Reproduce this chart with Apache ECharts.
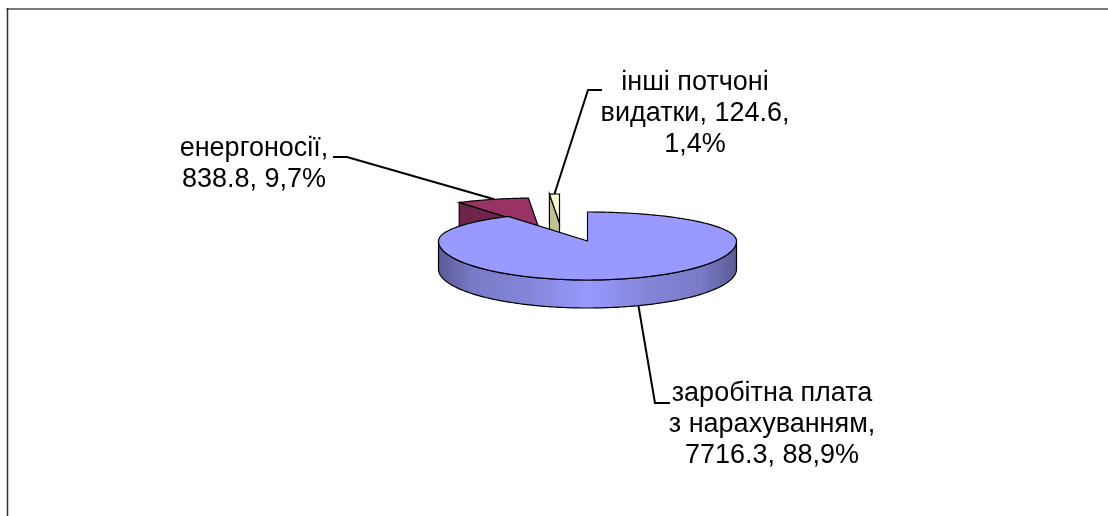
<!DOCTYPE html>
<html><head><meta charset="utf-8">
<style>html,body{margin:0;padding:0;background:#fff}#c{width:1108px;height:516px}</style>
<script src="https://cdn.jsdelivr.net/npm/echarts@6/dist/echarts.min.js"></script>
</head><body><div id="c"></div>
<script>
// data
const names = ['заробітна плата з нарахуванням', 'енергоносії', 'інші потчоні видатки'];
const values = [7716.3, 838.8, 124.6];
// label text broken into lines the way the picture wraps it
const labelLines = [
  v => ['заробітна плата', 'з нарахуванням,', v],
  v => ['енергоносії,', v],
  v => ['інші потчоні', 'видатки, ' + v.split(', ')[0] + ',', v.split(', ')[1]]
];
// layout & style (not data)
const pie = {cx: 587.5, cy: 241, rx: 149, ryBack: 29, ryFront: 39, depth: 28, warp: 0.75};
const sliceStyle = [
  {dx: 0, dy: 0, depth: 28, top: '#9999ff', face: '#6e6eb8', z: 3},
  {dx: -49, dy: -14, depth: 28, top: '#993366', face: '#6e2549', z: 1},
  {dx: -28, dy: -18, depth: 34, top: '#ffffcc', face: '#c2c291', z: 2}
];
const labelStyle = [
  {x: 772, y: 424.5, elbow: [[670, 403], [655, 403]]},
  {x: 254, y: 164.5, elbow: [[333, 157], [347, 157]]},
  {x: 695, y: 114, elbow: [[602, 90], [588, 90]]}
];
const FONT = '"Liberation Sans", Arial, sans-serif';

const total = values.reduce((a, b) => a + b, 0);
const RAD = Math.PI / 180;
// data angle (deg, clockwise from 12 o'clock) -> offset from pie centre on the tilted disc
function disc(deg) {
  let u = Math.sin(deg * RAD), v = Math.cos(deg * RAD);
  if (v > 0) { u *= pie.warp; const n = Math.hypot(u, v); u /= n; v /= n; }
  return [pie.rx * u, -(v > 0 ? pie.ryBack : pie.ryFront) * v];
}
function arc(a0, a1, ox, oy) {
  const pts = [], n = Math.max(2, Math.ceil(Math.abs(a1 - a0)));
  for (let i = 0; i <= n; i++) {
    const d = disc(a0 + (a1 - a0) * i / n);
    pts.push([pie.cx + ox + d[0], pie.cy + oy + d[1]]);
  }
  return pts;
}
const wallFill = new echarts.graphic.LinearGradient(0, 0, 1, 0, [
  {offset: 0, color: '#5a5a96'}, {offset: 0.06, color: '#6a6aae'}, {offset: 0.12, color: '#7a7ac8'},
  {offset: 0.3, color: '#8585d8'}, {offset: 0.5, color: '#9999ff'}, {offset: 0.7, color: '#8585d8'},
  {offset: 0.88, color: '#7a7ac8'}, {offset: 0.94, color: '#6a6aae'}, {offset: 1, color: '#5a5a96'}
]);
const ink = {stroke: '#000', lineWidth: 1.2};

function renderSlice(params, api) {
  const i = params.dataIndex;
  const val = api.value(0);
  const start = values.slice(0, i).reduce((a, b) => a + b, 0) / total * 360;
  const end = start + val / total * 360;
  const s = sliceStyle[i];
  const apex = [pie.cx + s.dx, pie.cy + s.dy];
  const rim = arc(start, end, s.dx, s.dy);
  const kids = [];
  if (i === 0) {
    const front = arc(90, 270, 0, 0);
    const wall = front.concat(front.slice().reverse().map(p => [p[0], p[1] + s.depth]));
    kids.push({type: 'polygon', z2: s.z, shape: {points: wall}, style: Object.assign({fill: wallFill}, ink)});
  } else {
    const o = rim[0].slice();
    const face = [apex, o, [o[0], o[1] + s.depth], [apex[0], apex[1] + s.depth]];
    kids.push({type: 'polygon', z2: s.z, shape: {points: face}, style: Object.assign({fill: s.face}, ink)});
  }
  kids.push({type: 'polygon', z2: s.z, shape: {points: [apex].concat(rim)}, style: Object.assign({fill: s.top}, ink)});

  // leader line ends on the slice's outer rim at its mid-angle
  const mid = disc((start + end) / 2);
  const drop = i === 0 ? s.depth : 0;
  const end2 = [apex[0] + mid[0], apex[1] + mid[1] + drop];
  const L = labelStyle[i];
  kids.push({type: 'polyline', z2: 5, shape: {points: L.elbow.concat([end2])}, style: {stroke: '#000', lineWidth: 2, fill: null}});

  const pct = (val / total * 100).toFixed(1).replace('.', ',') + '%';
  const txt = labelLines[i](val.toFixed(1) + ', ' + pct).join('\n');
  kids.push({type: 'text', z2: 6, style: {
    x: L.x, y: L.y, text: txt, fill: '#000', fontFamily: FONT, fontSize: 27,
    lineHeight: 31, align: 'center', verticalAlign: 'middle'
  }});
  return {type: 'group', children: kids};
}

const chart = echarts.init(document.getElementById('c'));
chart.setOption({
  animation: false,
  backgroundColor: '#fff',
  graphic: [
    {type: 'line', shape: {x1: 6.5, y1: 9, x2: 1108, y2: 9}, style: {stroke: '#7a7a7a', lineWidth: 2}},
    {type: 'line', shape: {x1: 7.5, y1: 8, x2: 7.5, y2: 516}, style: {stroke: '#333', lineWidth: 1.5}}
  ],
  series: [{
    type: 'custom',
    coordinateSystem: 'none',
    renderItem: renderSlice,
    clip: false,
    data: values.map((v, i) => ({name: names[i], value: [v]}))
  }]
});
</script></body></html>
